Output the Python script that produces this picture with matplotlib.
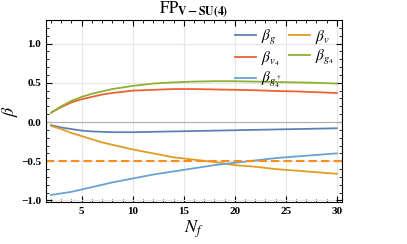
import numpy as np
import matplotlib
matplotlib.use('Agg')
import matplotlib.pyplot as plt
from matplotlib.ticker import MultipleLocator

plt.rcParams['font.family'] = 'Liberation Serif'
plt.rcParams['mathtext.fontset'] = 'stix'

nf = [2, 3, 4, 5, 6, 7, 8, 10, 12, 14, 16, 18, 20, 22, 24, 26, 28, 30]
beta_g = [-0.04, -0.07, -0.09, -0.11, -0.12, -0.125, -0.13, -0.13, -0.125, -0.12,
          -0.115, -0.11, -0.105, -0.10, -0.095, -0.09, -0.085, -0.08]
beta_v = [-0.05, -0.09, -0.14, -0.18, -0.22, -0.26, -0.29, -0.35, -0.40, -0.45,
          -0.48, -0.51, -0.55, -0.57, -0.60, -0.62, -0.64, -0.66]
beta_v4 = [0.12, 0.19, 0.25, 0.29, 0.32, 0.35, 0.37, 0.40, 0.41, 0.42,
           0.42, 0.415, 0.41, 0.405, 0.395, 0.39, 0.38, 0.37]
beta_g4 = [0.12, 0.20, 0.27, 0.32, 0.36, 0.39, 0.42, 0.46, 0.49, 0.505,
           0.515, 0.52, 0.52, 0.515, 0.51, 0.505, 0.50, 0.49]
beta_g4d = [-0.93, -0.91, -0.89, -0.86, -0.83, -0.80, -0.77, -0.72, -0.67, -0.63,
            -0.59, -0.55, -0.52, -0.49, -0.46, -0.44, -0.42, -0.40]
ref_level = -0.5

fig = plt.figure(figsize=(4.07, 2.44), dpi=100)
ax = fig.add_axes([0.113, 0.172, 0.727, 0.746])

ax.axhline(0, color='#b0b0b0', lw=0.8, zorder=1)
ax.grid(True, color='#e6e6e6', lw=0.8)
ax.set_axisbelow(True)

l1, = ax.plot(nf, beta_g, color='#5E81B5', lw=1.3, label=r'$\beta_g$')
l2, = ax.plot(nf, beta_v, color='#E19C24', lw=1.3, label=r'$\beta_v$')
l3, = ax.plot(nf, beta_v4, color='#EB6235', lw=1.3, label=r'$\beta_{v_4}$')
l4, = ax.plot(nf, beta_g4, color='#8FB032', lw=1.3, label=r'$\beta_{g_4}$')
l5, = ax.plot(nf, beta_g4d, color='#6AA2D3', lw=1.3, label=r'$\beta_{g_4^\dagger}$')
ax.axhline(ref_level, color='#FF8C1A', lw=1.5, ls=(0, (4, 2)))

ax.set_xlim(1.5, 30.5)
ax.set_ylim(-1.02, 1.3)
ax.xaxis.set_major_locator(MultipleLocator(5))
ax.xaxis.set_minor_locator(MultipleLocator(1))
ax.yaxis.set_major_locator(MultipleLocator(0.5))
ax.yaxis.set_minor_locator(MultipleLocator(0.1))
ax.tick_params(which='both', direction='in', top=True, right=True, labelsize=8)
ax.tick_params(which='major', length=4)
ax.tick_params(which='minor', length=2)
for lab in ax.get_xticklabels() + ax.get_yticklabels():
    lab.set_fontweight('bold')
ax.yaxis.set_major_formatter(matplotlib.ticker.FuncFormatter(
    lambda v, p: ('%.1f' % v).replace('-', '\u2212')))

ax.set_xlabel(r'$N_f$', fontsize=13, labelpad=2)
ax.set_ylabel(r'$\beta$', fontsize=13, labelpad=1)
ax.set_title(r'$\mathrm{FP}_{\mathbf{V-SU(4)}}$', fontsize=12, pad=3)

ax.legend(handles=[l1, l3, l5, l2, l4], ncol=2, loc='upper right', frameon=False,
          fontsize=11, handlelength=1.4, columnspacing=0.5, labelspacing=0.15,
          borderaxespad=0.1, handletextpad=0.3)

fig.savefig('out.png', dpi=100)
